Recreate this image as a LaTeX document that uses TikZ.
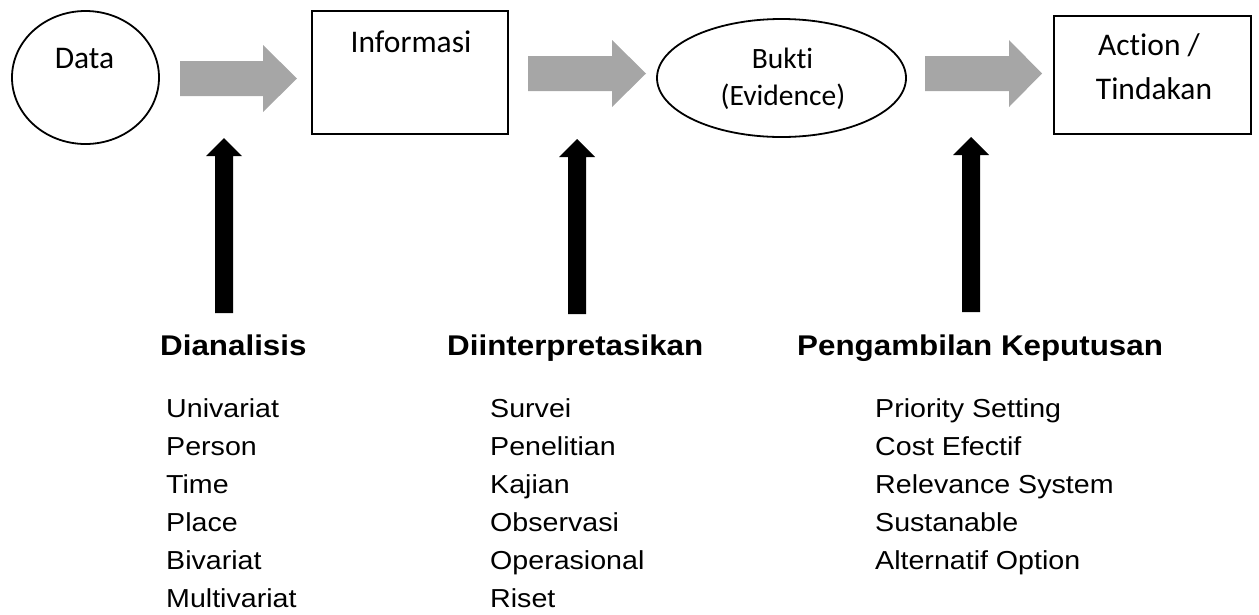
\documentclass[tikz,border=0pt]{standalone}
\usepackage{graphicx}
\usepackage{fontspec}
\setmainfont{Liberation Sans}
\newfontfamily\calib[Ligatures=NoCommon]{Carlito}
\usetikzlibrary{shapes.geometric}
\definecolor{arrowgray}{HTML}{A6A6A6}
\newcommand{\stretchtxt}[1]{\scalebox{1.1}[1]{#1}}
\begin{document}
\begin{tikzpicture}[x=1pt,y=-1pt,
  outline/.style={draw=black, line width=1.8pt, inner sep=0pt},
  toptext/.style={font=\calib\fontsize{31.5}{37}\selectfont, inner sep=0pt, anchor=base},
  smalltext/.style={font=\calib\fontsize{29.5}{35}\selectfont, inner sep=0pt, anchor=base},
  headtext/.style={font=\bfseries\fontsize{28.5}{34}\selectfont, inner sep=0pt, anchor=base west},
  itemtext/.style={font=\fontsize{26}{32}\selectfont, inner sep=0pt, anchor=base west},
  grayarrow/.style={fill=arrowgray},
  blackarrow/.style={fill=black}]
\useasboundingbox (0,0) rectangle (1259,614);

% shapes
\node[outline, ellipse, minimum width=147pt, minimum height=133pt] (data) at (85.5,77.5) {};
\node[outline, rectangle, minimum width=196pt, minimum height=123pt] (info) at (410,72.5) {};
\node[outline, ellipse, minimum width=249pt, minimum height=118pt] (bukti) at (781.5,78) {};
\node[outline, rectangle, minimum width=197pt, minimum height=118pt] (action) at (1152.5,75) {};

% texts in shapes
\node[toptext] (datatxt) at (84.5,68) {Data};
\node[toptext] (infotxt) at (411,52) {Informasi};
\node[smalltext] (buktitxt) at (782.5,68) {Bukti};
\node[smalltext] (evidtxt) at (783,105) {(Evidence)};
\node[toptext] (acttxt) at (1149,55) {Action /};
\node[toptext] (tindtxt) at (1154,99) {Tindakan};

% gray block arrows
\fill[grayarrow] (180,61) -- (263,61) -- (263,45) -- (297,78.5) -- (263,112) -- (263,96) -- (180,96) -- cycle;
\fill[grayarrow] (528,56) -- (612,56) -- (612,40) -- (646,73.5) -- (612,107) -- (612,91) -- (528,91) -- cycle;
\fill[grayarrow] (925,56) -- (1009,56) -- (1009,40) -- (1042,73.5) -- (1009,107) -- (1009,91) -- (925,91) -- cycle;

% black up arrows
\fill[blackarrow] (215,313) -- (215,156) -- (206,156) -- (224,138) -- (242,156) -- (233,156) -- (233,313) -- cycle;
\fill[blackarrow] (568,314) -- (568,157) -- (559,157) -- (577,139) -- (595,157) -- (586,157) -- (586,314) -- cycle;
\fill[blackarrow] (962,312) -- (962,155) -- (953,155) -- (971,137) -- (989,155) -- (980,155) -- (980,312) -- cycle;

% headings
\node[headtext] (h1) at (160,355) {\stretchtxt{Dianalisis}};
\node[headtext] (h2) at (447,355) {\stretchtxt{Diinterpretasikan}};
\node[headtext] (h3) at (797,355) {\stretchtxt{Pengambilan Keputusan}};

% lists
\foreach \t [count=\i from 0] in {Univariat,Person,Time,Place,Bivariat,Multivariat}
  \node[itemtext] (a\i) at (166,417+38*\i) {\stretchtxt{\t}};
\foreach \t [count=\i from 0] in {Survei,Penelitian,Kajian,Observasi,Operasional,Riset}
  \node[itemtext] (b\i) at (490,417+38*\i) {\stretchtxt{\t}};
\foreach \t [count=\i from 0] in {Priority Setting,Cost Efectif,Relevance System,Sustanable,Alternatif Option}
  \node[itemtext] (c\i) at (875,417+38*\i) {\stretchtxt{\t}};
\end{tikzpicture}
\end{document}
